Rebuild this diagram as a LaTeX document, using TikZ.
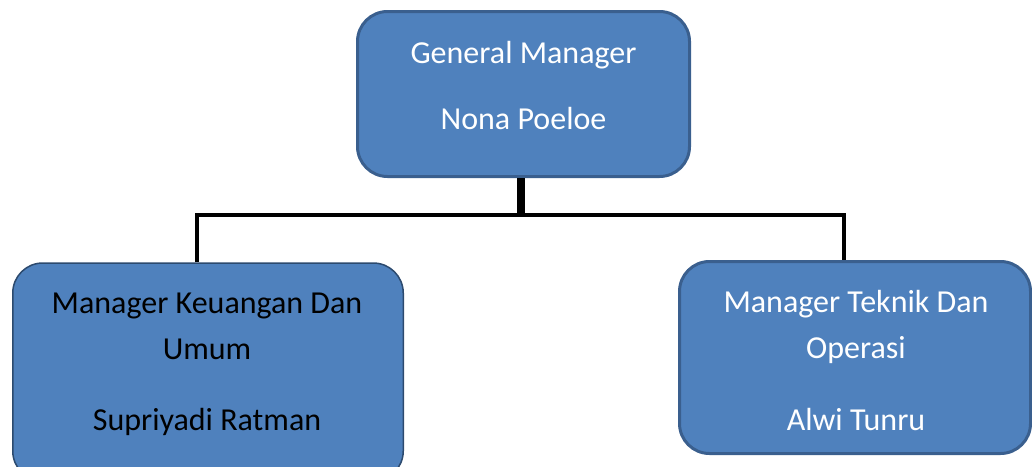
\documentclass[tikz,border=0pt]{standalone}
\usepackage{fontspec}
\setmainfont{Carlito}
\definecolor{boxfill}{HTML}{4F81BD}
\definecolor{boxline}{HTML}{3A5F8E}
\definecolor{boxlinedark}{HTML}{2C4A6E}
\begin{document}
\begin{tikzpicture}[x=1pt,y=-1pt,
  box/.style={draw=boxline,line width=3pt,fill=boxfill,rounded corners=30pt,inner sep=0pt},
  txt/.style={anchor=base,inner sep=0pt,font=\fontsize{32}{38}\selectfont},
  link/.style={line width=3.5pt,line join=miter},
  stem/.style={line width=8pt}]

\useasboundingbox (0,0) rectangle (1032,466);
\clip (0,0) rectangle (1032,466);

% Boxes
\node [box,minimum width=332pt,minimum height=165pt] (gm) at (523.5,94) {};
\node [box,line width=1.5pt,draw=boxlinedark,minimum width=390.5pt,minimum height=218pt] (mku) at (208,372) {};
\node [box,minimum width=351pt,minimum height=192pt] (mto) at (855,357.5) {};

% Text
\node [txt,text=white] (gmjob) at (523.5,63) {General Manager};
\node [txt,text=white] (gmname) at (523.5,129) {Nona Poeloe};
\node [txt] (mkujob) at (207,313) {Manager Keuangan Dan};
\node [txt] (mkujob2) at (207,359) {Umum};
\node [txt] (mkuname) at (207,430) {Supriyadi Ratman};
\node [txt,text=white] (mtojob) at (856,312) {Manager Teknik Dan};
\node [txt,text=white] (mtojob2) at (856,358) {Operasi};
\node [txt,text=white] (mtoname) at (856,430) {Alwi Tunru};

%Lines
\coordinate (js) at (521,217);
\coordinate (jl) at (197,215);
\coordinate (jr) at (844,215);
\draw [stem] (gm.south -| js) -- (js);
\draw [link] (mku.north -| jl) -- (jl) -- (jr) -- (mto.north -| jr);
\end{tikzpicture}
\end{document}
